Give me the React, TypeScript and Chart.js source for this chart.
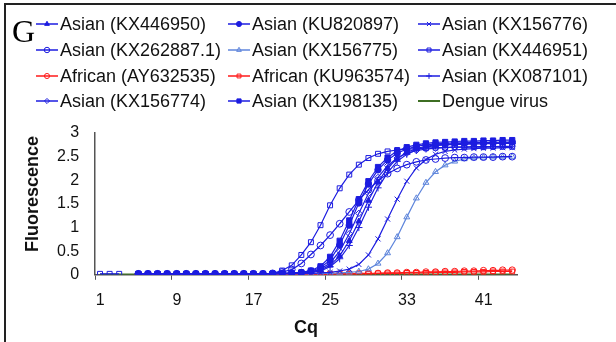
import React, { useEffect, useRef } from "react";
import { Chart, registerables } from "chart.js";
import { drawPoint } from "chart.js/helpers";

Chart.register(...registerables);

const panelLetter = "G";
const xTitle = "Cq";
const yTitle = "Fluorescence";
const xTickValues = [0.5, 8.5, 16.5, 24.5, 32.5, 40.5];
const yTickValues = [0, 0.5, 1, 1.5, 2, 2.5, 3];

const cycles = [
  1, 2, 3, 4, 5, 6, 7, 8, 9, 10, 11, 12, 13, 14, 15, 16, 17, 18, 19, 20, 21, 22,
  23, 24, 25, 26, 27, 28, 29, 30, 31, 32, 33, 34, 35, 36, 37, 38, 39, 40, 41, 42, 43, 44,
];

const N = null;

const kx446950 = [
  N, N, N, N, 0.02, 0.02, 0.02, 0.02, 0.02, 0.02, 0.02, 0.02, 0.02, 0.02, 0.02, 0.02, 0.02, 0.02,
  0.02, 0.03, 0.03, 0.04, 0.06,
  0.1, 0.2, 0.4, 0.72, 1.13, 1.57, 1.96, 2.26, 2.46, 2.59, 2.67, 2.72, 2.75, 2.76, 2.77, 2.78, 2.78,
  2.79, 2.79, 2.79, 2.8,
];
const ku820897 = [
  N, N, N, N, 0.02, 0.02, 0.02, 0.02, 0.02, 0.02, 0.02, 0.02, 0.02, 0.02, 0.02, 0.02, 0.02, 0.02,
  0.02, 0.03, 0.04, 0.05, 0.08,
  0.15, 0.31, 0.63, 1.05, 1.52, 1.92, 2.22, 2.43, 2.57, 2.66, 2.72, 2.75, 2.77, 2.78, 2.79, 2.79, 2.8,
  2.8, 2.8, 2.81, 2.81,
];
const kx156776 = [
  N, N, N, N, 0.02, 0.02, 0.02, 0.02, 0.02, 0.02, 0.02, 0.02, 0.02, 0.02, 0.02, 0.02, 0.02, 0.02,
  0.02, 0.02, 0.02, 0.03, 0.03, 0.04, 0.05, 0.08,
  0.12, 0.22, 0.42, 0.76, 1.18, 1.6, 1.98, 2.26, 2.44, 2.55, 2.61, 2.64, 2.66, 2.67, 2.68, 2.68,
  2.69, 2.69,
];
const kx262887 = [
  N, N, N, N, 0.02, 0.02, 0.02, 0.02, 0.02, 0.02, 0.02, 0.02, 0.02, 0.02, 0.02, 0.02, 0.02, 0.02,
  0.03, 0.06, 0.11, 0.24, 0.43, 0.62, 0.84, 1.08, 1.33, 1.58, 1.8, 1.99, 2.14, 2.25, 2.33, 2.39,
  2.43, 2.45, 2.47, 2.48, 2.48, 2.49, 2.49, 2.49, 2.5, 2.5,
];
const kx156775 = [
  N, N, N, N, 0.02, 0.02, 0.02, 0.02, 0.02, 0.02, 0.02, 0.02, 0.02, 0.02, 0.02, 0.02, 0.02, 0.02,
  0.02, 0.02, 0.02, 0.02, 0.02, 0.03, 0.03, 0.04, 0.05,
  0.07, 0.12, 0.24, 0.46, 0.8, 1.22, 1.62, 1.95, 2.18, 2.32, 2.4, 2.45, 2.47, 2.48, 2.49, 2.49, 2.5,
];
const kx446951 = [
  0.02, 0.02, 0.02, N, 0.02, 0.02, 0.02, 0.02, 0.02, 0.02, 0.02, 0.02, 0.02, 0.02, 0.02, 0.02, 0.02,
  0.02, 0.03, 0.09, 0.2, 0.42, 0.69, 1.05, 1.47, 1.83, 2.12, 2.33, 2.47, 2.56, 2.61, 2.64, 2.66,
  2.67, 2.68, 2.69, 2.69, 2.7, 2.7, 2.7, 2.7, 2.71, 2.71, 2.71,
];
const ay632535 = [
  N, N, N, N, 0.01, 0.01, 0.01, 0.01, 0.01, 0.01, 0.01, 0.01, 0.01, 0.01, 0.01, 0.01, 0.01, 0.01,
  0.01, 0.01, 0.01, 0.01, 0.01, 0.01,
  0.02, 0.02, 0.02, 0.03, 0.03, 0.03, 0.04, 0.04, 0.05, 0.05, 0.06, 0.06, 0.07, 0.07, 0.08, 0.08,
  0.09, 0.09, 0.1, 0.1,
];
const ku963574 = [
  N, N, N, N, 0.01, 0.01, 0.01, 0.01, 0.01, 0.01, 0.01, 0.01, 0.01, 0.01, 0.01, 0.01, 0.01, 0.01,
  0.01, 0.01, 0.01, 0.01, 0.01, 0.01,
  0.01, 0.02, 0.02, 0.02, 0.02, 0.03, 0.03, 0.03, 0.04, 0.04, 0.04, 0.05, 0.05, 0.05, 0.06, 0.06,
  0.06, 0.07, 0.07, 0.07,
];
const kx087101 = [
  N, N, N, N, 0.02, 0.02, 0.02, 0.02, 0.02, 0.02, 0.02, 0.02, 0.02, 0.02, 0.02, 0.02, 0.02, 0.02,
  0.02, 0.02, 0.03, 0.04, 0.05, 0.08, 0.17, 0.34, 0.62, 1.0, 1.43, 1.84, 2.16, 2.4, 2.55, 2.64,
  2.7, 2.73, 2.75, 2.76, 2.76, 2.77, 2.77, 2.78, 2.78, 2.78,
];
const kx156774 = [
  N, N, N, N, 0.02, 0.02, 0.02, 0.02, 0.02, 0.02, 0.02, 0.02, 0.02, 0.02, 0.02, 0.02, 0.02, 0.02,
  0.02, 0.03, 0.03, 0.04, 0.06, 0.12, 0.25, 0.5, 0.87, 1.3, 1.72, 2.06, 2.31, 2.47, 2.57, 2.63,
  2.66, 2.68, 2.69, 2.7, 2.7, 2.71, 2.71, 2.71, 2.72, 2.72,
];
const kx198135 = [
  N, N, N, N, 0.02, 0.02, 0.02, 0.02, 0.02, 0.02, 0.02, 0.02, 0.02, 0.02, 0.02, 0.02, 0.02, 0.02,
  0.02, 0.02, 0.03, 0.05, 0.09, 0.18, 0.38, 0.72, 1.15, 1.6, 1.98, 2.28, 2.48, 2.62, 2.7, 2.75,
  2.78, 2.8, 2.81, 2.82, 2.83, 2.83, 2.84, 2.84, 2.85, 2.85,
];
const dengue = [
  0.01, 0.01, 0.01, 0.01, 0.01, 0.01, 0.01, 0.01, 0.01, 0.01, 0.01, 0.01, 0.01, 0.01, 0.01, 0.01,
  0.01, 0.01, 0.01, 0.01, 0.01, 0.01, 0.01, 0.01, 0.01, 0.01, 0.01, 0.01, 0.01, 0.01, 0.01, 0.01,
  0.01, 0.01, 0.01, 0.01, 0.01, 0.01, 0.01, 0.01, 0.01, 0.01, 0.01, 0.01,
];

const seriesLabels = [
  "Asian (KX446950)",
  "Asian (KU820897)",
  "Asian (KX156776)",
  "Asian (KX262887.1)",
  "Asian (KX156775)",
  "Asian (KX446951)",
  "African (AY632535)",
  "African (KU963574)",
  "Asian (KX087101)",
  "Asian (KX156774)",
  "Asian (KX198135)",
  "Dengue virus",
];
const seriesValues = [
  kx446950, ku820897, kx156776, kx262887, kx156775, kx446951,
  ay632535, ku963574, kx087101, kx156774, kx198135, dengue,
];

const BLUE = "#1c1ce0";
const LIGHT = "#5f86dc";
const RED = "#ff1a1a";
const GREEN = "#3d6e23";
const NONE = "rgba(255,255,255,0)";

// [color, pointStyle, fill, radius]
const seriesStyles: [string, string, string, number][] = [
  [BLUE, "triangle", BLUE, 3.4],
  [BLUE, "circle", BLUE, 3.2],
  [BLUE, "crossRot", BLUE, 3.6],
  [BLUE, "circle", NONE, 3.4],
  [LIGHT, "triangle", NONE, 3.4],
  [BLUE, "rect", NONE, 3.5],
  [RED, "circle", NONE, 3.2],
  [RED, "rect", NONE, 3.4],
  [BLUE, "cross", BLUE, 3.6],
  [BLUE, "rectRot", NONE, 3.2],
  [BLUE, "rect", BLUE, 3.7],
  [GREEN, "circle", GREEN, 0],
];

const FONT = '"Liberation Sans", Arial, sans-serif';

const framePlugin = {
  id: "frame",
  beforeDraw(chart: any) {
    const ctx = chart.ctx;
    ctx.save();
    ctx.fillStyle = "#fff";
    ctx.fillRect(0, 0, chart.width, chart.height);
    ctx.strokeStyle = "#222";
    ctx.lineWidth = 2;
    ctx.beginPath();
    ctx.moveTo(5, chart.height);
    ctx.lineTo(5, 4);
    ctx.lineTo(chart.width, 4);
    ctx.stroke();
    ctx.restore();
  },
  afterDraw(chart: any) {
    const ctx = chart.ctx;
    ctx.save();
    ctx.fillStyle = "#000";
    ctx.font = '32px "Liberation Serif", "Times New Roman", serif';
    ctx.textBaseline = "alphabetic";
    ctx.textAlign = "left";
    ctx.fillText(panelLetter, 12, 42);
    ctx.save();
    ctx.translate(33, 194);
    ctx.rotate(-Math.PI / 2);
    ctx.font = "bold 18px " + FONT;
    ctx.textAlign = "center";
    ctx.textBaseline = "middle";
    ctx.fillStyle = "#111";
    ctx.fillText(yTitle, 0, 0);
    ctx.restore();
    const colX = [36, 228, 418];
    const rowY = [24, 50, 76, 101];
    chart.data.datasets.forEach((ds: any, i: number) => {
      const x = colX[i % 3];
      const y = rowY[Math.floor(i / 3)];
      ctx.strokeStyle = ds.borderColor;
      ctx.lineWidth = i === 11 ? 2 : 1.5;
      ctx.beginPath();
      ctx.moveTo(x, y);
      ctx.lineTo(x + 22, y);
      ctx.stroke();
      if (ds.pointRadius > 0) {
        ctx.fillStyle = ds.pointBackgroundColor;
        ctx.strokeStyle = ds.pointBorderColor;
        ctx.lineWidth = 1;
        drawPoint(
          ctx,
          { pointStyle: ds.pointStyle, rotation: 0, radius: ds.pointRadius * 0.8, borderWidth: 1 },
          x + 11,
          y
        );
      }
      ctx.fillStyle = "#111";
      ctx.font = "18px " + FONT;
      ctx.textAlign = "left";
      ctx.textBaseline = "middle";
      ctx.fillText(ds.label, x + 24, y + 1);
    });
    ctx.restore();
  },
};

export default function App() {
  const ref = useRef<HTMLCanvasElement>(null);

  useEffect(() => {
    document.body.style.margin = "0";
    const datasets = seriesLabels.map((label, i) => {
      const [color, style, fill, radius] = seriesStyles[i];
      return {
        label,
        data: cycles.map((c, j) => ({ x: c, y: seriesValues[i][j] })),
        borderColor: color,
        backgroundColor: fill,
        borderWidth: i === 11 ? 1.5 : 1.2,
        pointStyle: style,
        pointRadius: radius,
        pointBackgroundColor: fill,
        pointBorderColor: color,
        pointBorderWidth: 1,
        tension: 0,
        spanGaps: false,
      };
    });
    const chart = new Chart(ref.current as HTMLCanvasElement, {
      type: "line",
      data: { datasets } as any,
      plugins: [framePlugin],
      options: {
        animation: false,
        responsive: true,
        maintainAspectRatio: false,
        layout: { padding: { top: 133, left: 41, right: 99, bottom: 1 } },
        plugins: { legend: { display: false }, tooltip: { enabled: false } },
        scales: {
          x: {
            type: "linear",
            min: 0.5,
            max: 44.5,
            afterBuildTicks: (scale: any) => {
              scale.ticks = xTickValues.map((v) => ({ value: v }));
            },
            ticks: {
              callback: (v: any) => String(Number(v) + 0.5),
              labelOffset: 5,
              padding: 11,
              autoSkip: false,
              maxRotation: 0,
              color: "#111",
              font: { family: FONT, size: 16 },
            },
            grid: {
              display: true,
              drawOnChartArea: false,
              drawTicks: true,
              tickLength: 5,
              color: "#555",
              lineWidth: 1,
            },
            border: { display: true, color: "#555", width: 1.5 },
            title: {
              display: true,
              text: xTitle,
              color: "#111",
              font: { family: FONT, size: 18, weight: "bold", lineHeight: 1.0 },
              padding: { top: -2, bottom: 4 },
            },
          },
          y: {
            min: 0,
            max: 3,
            afterBuildTicks: (scale: any) => {
              scale.ticks = yTickValues.map((v) => ({ value: v }));
            },
            ticks: {
              autoSkip: false,
              callback: (v: any) => String(v),
              padding: 16,
              color: "#111",
              font: { family: FONT, size: 16 },
            },
            grid: { display: false, drawTicks: false },
            border: { display: true, color: "#555", width: 1.5 },
          },
        },
      } as any,
    });
    return () => chart.destroy();
  }, []);

  return (
    <div style={{ position: "relative", width: 616, height: 342 }}>
      <canvas ref={ref} />
    </div>
  );
}
